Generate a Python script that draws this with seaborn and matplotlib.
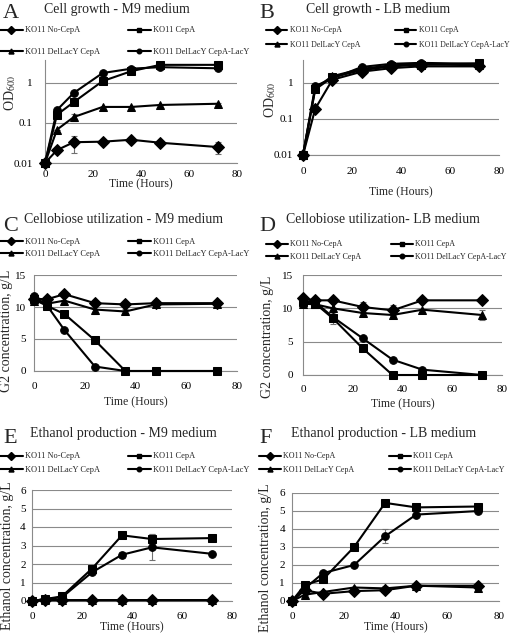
import matplotlib
matplotlib.use("Agg")
import matplotlib.pyplot as plt
import numpy as np
import pandas as pd
import seaborn as sns

sns.set_style("white")
plt.rcParams["font.family"] = ["Liberation Serif", "DejaVu Serif"]
plt.rcParams["mathtext.fontset"] = "stix"

hours = [0, 5, 12, 24, 36, 48, 72]
strains = ["KO11 No-CepA", "KO11 CepA", "KO11 DelLacY CepA", "KO11 DelLacY CepA-LacY"]

# A - cell growth, M9 (OD600)
a_nocepa = [0.01, 0.021, 0.033, 0.034, 0.038, 0.032, 0.025]
a_cepa = [0.01, 0.16, 0.33, 1.1, 1.95, 2.8, 2.8]
a_dellacy = [0.01, 0.068, 0.14, 0.25, 0.25, 0.28, 0.3]
a_lacy = [0.01, 0.21, 0.56, 1.75, 2.25, 2.45, 2.3]
a_err = {"KO11 No-CepA": [0, 0, 0.015, 0, 0, 0, 0.008],
         "KO11 DelLacY CepA": [0, 0, 0.03, 0, 0, 0, 0.02]}

# B - cell growth, LB (OD600)
b_nocepa = [0.01, 0.19, 1.2, 2.0, 2.5, 2.8, 2.8]
b_cepa = [0.01, 0.65, 1.4, 2.2, 2.8, 3.1, 3.4]
b_dellacy = [0.01, 0.7, 1.5, 2.4, 3.0, 3.2, 3.0]
b_lacy = [0.01, 0.8, 1.3, 2.7, 3.3, 3.5, 3.3]
b_err = {}

# C - cellobiose, M9 (g/L)
c_nocepa = [11.3, 11.2, 12.0, 10.6, 10.4, 10.6, 10.6]
c_cepa = [11.2, 10.2, 8.9, 4.8, 0, 0, 0]
c_dellacy = [11.0, 10.5, 11.0, 9.6, 9.3, 10.4, 10.5]
c_lacy = [11.7, 10.3, 6.4, 0.7, 0, 0, 0]
c_err = {"KO11 DelLacY CepA": [0, 0, 0.5, 0.7, 0.4, 0, 0]}

# D - cellobiose, LB (g/L)
d_nocepa = [11.5, 11.2, 11.2, 10.2, 9.7, 11.2, 11.2]
d_cepa = [11.0, 10.7, 8.5, 4.0, 0, 0, 0]
d_dellacy = [10.7, 10.6, 10.0, 9.3, 9.0, 9.8, 9.0]
d_lacy = [11.2, 10.9, 8.7, 5.5, 2.3, 0.8, 0]
d_err = {"KO11 No-CepA": [0, 0, 0, 0.8, 0.8, 0, 0],
         "KO11 CepA": [0, 0, 0.9, 0, 0, 0, 0],
         "KO11 DelLacY CepA": [0, 0, 0, 0, 0, 0, 0.8]}

# E - ethanol, M9 (g/L)
e_nocepa = [0, 0.05, 0.05, 0.05, 0.05, 0.05, 0.05]
e_cepa = [0, 0.1, 0.25, 1.75, 3.55, 3.35, 3.4]
e_dellacy = [0, 0.04, 0.04, 0.04, 0.04, 0.04, 0.04]
e_lacy = [0, 0.1, 0.2, 1.55, 2.5, 2.9, 2.55]
e_err = {"KO11 CepA": [0, 0, 0, 0, 0, 0.25, 0],
         "KO11 DelLacY CepA-LacY": [0, 0, 0, 0.1, 0.15, 0.7, 0]}

# F - ethanol, LB (g/L)
f_nocepa = [0, 0.6, 0.4, 0.55, 0.6, 0.85, 0.85]
f_cepa = [0, 0.9, 1.2, 3.0, 5.45, 5.2, 5.25]
f_dellacy = [0, 0.35, 0.5, 0.75, 0.7, 0.85, 0.75]
f_lacy = [0, 0.7, 1.55, 2.0, 3.6, 4.8, 5.0]
f_err = {"KO11 DelLacY CepA-LacY": [0, 0, 0, 0, 0.4, 0, 0],
         "KO11 DelLacY CepA": [0, 0, 0, 0, 0.15, 0, 0]}

markers = {"KO11 No-CepA": ("D", 6.5), "KO11 CepA": ("s", 5.5),
           "KO11 DelLacY CepA": ("^", 6), "KO11 DelLacY CepA-LacY": ("o", 5.5)}

W, H = 512, 636
fig = plt.figure(figsize=(W / 100, H / 100), dpi=100)
gray = "#8a8a8a"


def fx(x):
    return x / W


def fy(y):
    return 1 - y / H


panels = [
    dict(letter="A", title="Cell growth - M9 medium", vals=[a_nocepa, a_cepa, a_dellacy, a_lacy], err=a_err,
         box=(45, 60, 237, 163), lx=3, ly=18, tx=117, ty=9, rows=(31, 52), cols=(0, 128), lfs=6,
         log=True, ylim=(0.01, 3.7), ylabel="OD$_{600}$", yl=(10, 93), xly=184.5, xpad=5, ypad=9),
    dict(letter="B", title="Cell growth - LB medium", vals=[b_nocepa, b_cepa, b_dellacy, b_lacy], err=b_err,
         box=(303, 60, 499, 155), lx=259, ly=18, tx=378, ty=9, rows=(31, 45), cols=(266, 395), lfs=5.7,
         log=True, ylim=(0.01, 4.2), ylabel="OD$_{600}$", yl=(270, 100), xly=192, xpad=9, ypad=7),
    dict(letter="C", title="Cellobiose utilization - M9 medium", vals=[c_nocepa, c_cepa, c_dellacy, c_lacy], err=c_err,
         box=(34, 275, 237, 371), lx=3, ly=231, tx=123, ty=220, rows=(242, 254), cols=(0, 128), lfs=6,
         log=False, ylim=(0, 15), yticks=[0, 5, 10, 15], ylabel="G2 concentration, g/L", yl=(7, 331),
         xly=402, xpad=8, ypad=6),
    dict(letter="D", title="Cellobiose utilization- LB medium", vals=[d_nocepa, d_cepa, d_dellacy, d_lacy], err=d_err,
         box=(303, 275, 502, 375), lx=259, ly=231, tx=383, ty=220, rows=(245, 257), cols=(266, 391), lfs=5.8,
         log=False, ylim=(0, 15), yticks=[0, 5, 10, 15], ylabel="G2 concentration, g/L", yl=(267, 337),
         xly=404, xpad=7, ypad=7),
    dict(letter="E", title="Ethanol production - M9 medium", vals=[e_nocepa, e_cepa, e_dellacy, e_lacy], err=e_err,
         box=(32, 490, 232, 601), lx=3, ly=443, tx=123, ty=433, rows=(457, 470), cols=(0, 128), lfs=6,
         log=False, ylim=(0, 6), yticks=[0, 1, 2, 3, 4, 5, 6], ylabel="Ethanol concentration, g/L", yl=(8, 556),
         xly=627, xpad=8, ypad=4.5),
    dict(letter="F", title="Ethanol production - LB medium", vals=[f_nocepa, f_cepa, f_dellacy, f_lacy], err=f_err,
         box=(292, 493, 499, 601), lx=259, ly=443, tx=384, ty=433, rows=(457, 470), cols=(259, 389), lfs=5.8,
         log=False, ylim=(0, 6), yticks=[0, 1, 2, 3, 4, 5, 6], ylabel="Ethanol concentration, g/L", yl=(266, 558),
         xly=627, xpad=8, ypad=5),
]

for p in panels:
    l, t, r, b = p["box"]
    ax = fig.add_axes([fx(l), fy(b), fx(r - l), (b - t) / H])
    df = pd.DataFrame({"Time": np.tile(hours, 4),
                       "Value": np.concatenate(p["vals"]),
                       "Strain": np.repeat(strains, len(hours))})
    handles = {}
    for s in strains:
        sub = df[df["Strain"] == s]
        if s in p["err"]:
            ax.errorbar(sub["Time"], sub["Value"], yerr=p["err"][s], fmt="none",
                        ecolor="#707070", elinewidth=0.8, capsize=2, capthick=0.8, zorder=2)
        m, ms = markers[s]
        sns.lineplot(data=sub, x="Time", y="Value", marker=m, markersize=ms, color="black",
                     markeredgecolor="black", linewidth=1.5, ax=ax, clip_on=False, zorder=3)
        handles[s] = plt.Line2D([], [], color="black", lw=1.5, marker=m, markersize=ms * 0.6)

    if p["log"]:
        ax.set_yscale("log")
        ax.set_yticks([0.01, 0.1, 1])
        ax.set_yticklabels(["0.01", "0.1", "1"])
        ax.minorticks_off()
    else:
        ax.set_yticks(p["yticks"])
    ax.set_ylim(*p["ylim"])
    ax.set_xlim(0, 80)
    ax.set_xticks([0, 20, 40, 60, 80])
    ax.grid(axis="y", color=gray, lw=0.8)
    ax.grid(axis="x", visible=False)
    for side in ["top", "right"]:
        ax.spines[side].set_visible(False)
    for side in ["left", "bottom"]:
        ax.spines[side].set_color(gray)
        ax.spines[side].set_linewidth(0.8)
    ax.tick_params(axis="both", length=0, labelsize=8, colors="black")
    ax.tick_params(axis="x", pad=p["xpad"])
    ax.tick_params(axis="y", pad=p["ypad"])
    ax.set_xlabel("Time (Hours)", fontsize=8.5, va="center")
    ax.set_ylabel(p["ylabel"], fontsize=10, va="center")
    ax.xaxis.set_label_coords(fx((l + r) / 2), fy(p["xly"]), transform=fig.transFigure)
    ax.yaxis.set_label_coords(fx(p["yl"][0]), fy(p["yl"][1]), transform=fig.transFigure)

    fig.text(fx(p["lx"]), fy(p["ly"]), p["letter"], fontsize=16, ha="left", va="baseline")
    fig.text(fx(p["tx"]), fy(p["ty"]), p["title"], fontsize=10, ha="center", va="center")

    r1, r2 = p["rows"]
    for ci, pair in enumerate([(strains[0], strains[2]), (strains[1], strains[3])]):
        fig.legend([handles[pair[0]], handles[pair[1]]], list(pair),
                   loc="upper left", bbox_to_anchor=(fx(p["cols"][ci]), fy(r1 - 4.5)),
                   frameon=False, fontsize=p["lfs"], borderpad=0, borderaxespad=0,
                   handlelength=2.7, handletextpad=0.3,
                   labelspacing=(r2 - r1) / 8.3 - 0.9)

fig.savefig("out.png", dpi=100)
